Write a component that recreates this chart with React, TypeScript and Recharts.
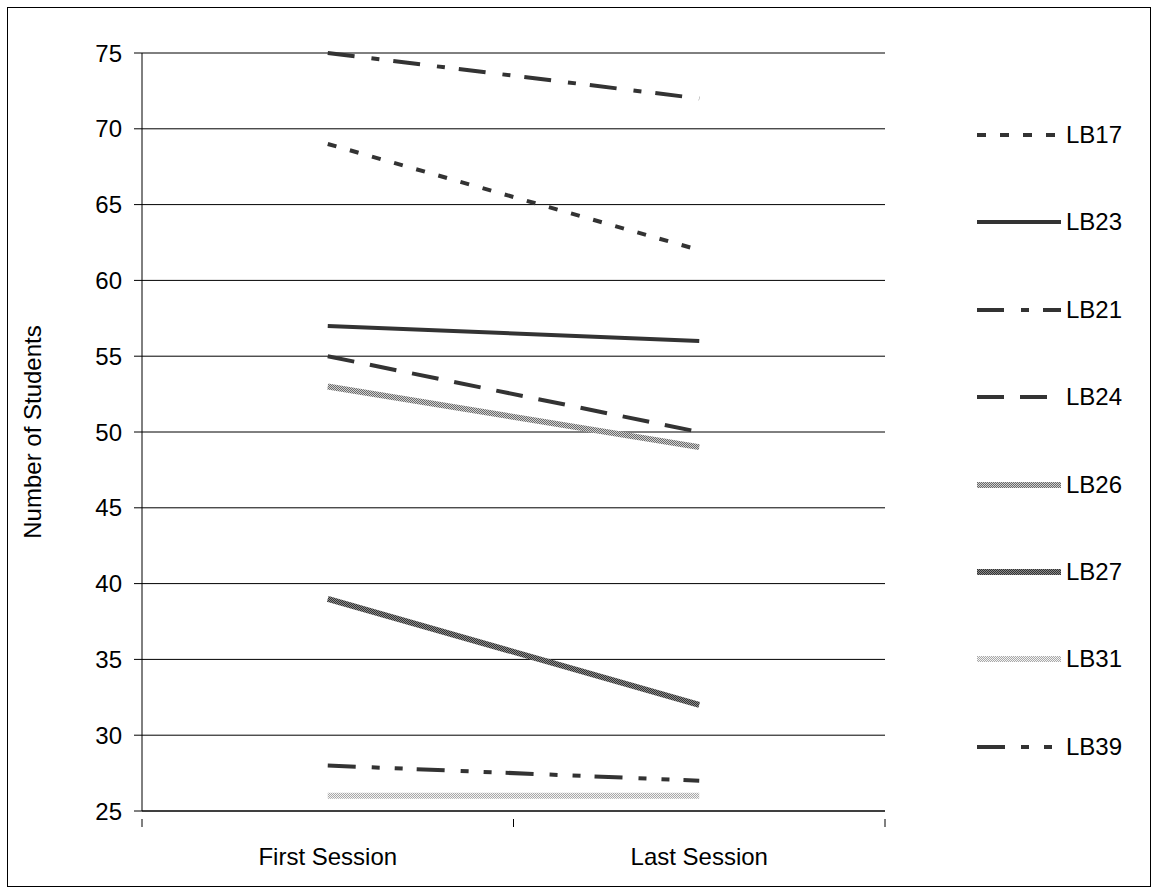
import React from "react";
import { CartesianGrid, Line, LineChart, XAxis, YAxis } from "recharts";

const categories = ["First Session", "Last Session"];
const seriesNames = ["LB17", "LB23", "LB21", "LB24", "LB26", "LB27", "LB31", "LB39"];
const firstSession = [69, 57, 75, 55, 53, 39, 26, 28];
const lastSession = [62, 56, 72, 50, 49, 32, 26, 27];
const yTicks = [25, 30, 35, 40, 45, 50, 55, 60, 65, 70, 75];

// Excel-ish line styles; the three hatched ones use a checker pattern
const STYLES: Record<string, { stroke: string; width: number; dash?: string }> = {
  LB17: { stroke: "#333", width: 4, dash: "9 14" },
  LB23: { stroke: "#333", width: 4 },
  LB21: { stroke: "#333", width: 4, dash: "27 17 8 14" },
  LB24: { stroke: "#333", width: 4, dash: "27 16" },
  LB26: { stroke: "url(#chk26)", width: 6 },
  LB27: { stroke: "url(#chk27)", width: 6 },
  LB31: { stroke: "url(#chk31)", width: 6 },
  LB39: { stroke: "#333", width: 4, dash: "28 16 8 15 8 14" },
};

const FONT = "'Liberation Sans', Arial, sans-serif";
const FS = 24;

const data = categories.map((c, i) => {
  const row: Record<string, number | string> = { x: i + 0.5, name: c };
  seriesNames.forEach((s, k) => {
    row[s] = i === 0 ? firstSession[k] : lastSession[k];
  });
  return row;
});

function Checker({ id, a, b }: { id: string; a: string; b: string }) {
  return (
    <pattern id={id} width={2} height={2} patternUnits="userSpaceOnUse">
      <rect width={2} height={2} fill={b} />
      <rect width={1} height={1} fill={a} />
      <rect x={1} y={1} width={1} height={1} fill={a} />
    </pattern>
  );
}

function Patterns() {
  return (
    <defs>
      <Checker id="chk26" a="#6a6a6a" b="#d0d0d0" />
      <Checker id="chk27" a="#333333" b="#8a8a8a" />
      <Checker id="chk31" a="#a8a8a8" b="#f4f4f4" />
    </defs>
  );
}

function XTick(props: any) {
  const { x, y, payload } = props;
  const v = payload.value as number;
  if (Number.isInteger(v)) {
    return <line x1={x} x2={x} y1={y} y2={y + 8} stroke="#000" />;
  }
  return (
    <text x={x} y={y + 46} textAnchor="middle" fontSize={FS} fontFamily={FONT} fill="#000">
      {categories[Math.floor(v)]}
    </text>
  );
}

function LegendBox() {
  return (
    <div style={{ position: "absolute", left: 976, top: 123, width: 180 }}>
      {seriesNames.map((s, i) => {
        const st = STYLES[s];
        return (
          <div
            key={s}
            style={{ position: "absolute", left: 0, top: i * 87.4, height: 24, display: "flex", alignItems: "center" }}
          >
            <svg width={86} height={24}>
              <Patterns />
              <line x1={1} x2={85} y1={12} y2={12} stroke={st.stroke} strokeWidth={st.width} strokeDasharray={st.dash} />
            </svg>
            <span style={{ fontFamily: FONT, fontSize: FS, color: "#000", marginLeft: 4, lineHeight: "24px" }}>{s}</span>
          </div>
        );
      })}
    </div>
  );
}

export default function App() {
  return (
    <div style={{ position: "absolute", left: 0, top: 0, width: 1158, height: 893, background: "#fff" }}>
      <div style={{ position: "absolute", left: 7, top: 7, width: 1142, height: 878, border: "1px solid #000" }} />
      <LineChart width={1158} height={893} data={data} margin={{ top: 53, right: 273, left: 0, bottom: 0 }}>
        <Patterns />
        <CartesianGrid vertical={false} stroke="#000" strokeWidth={1} />
        <XAxis
          dataKey="x"
          type="number"
          domain={[0, 2]}
          ticks={[0, 0.5, 1, 1.5, 2]}
          interval={0}
          tickLine={false}
          axisLine={{ stroke: "#000" }}
          tick={<XTick />}
          height={82}
        />
        <YAxis
          domain={[25, 75]}
          ticks={yTicks}
          interval={0}
          width={142}
          tickSize={8}
          tickMargin={12}
          axisLine={{ stroke: "#000" }}
          tickLine={{ stroke: "#000" }}
          tick={{ fontSize: FS, fontFamily: FONT, fill: "#000" }}
          label={{
            value: "Number of Students",
            angle: -90,
            position: "insideLeft",
            offset: 32,
            style: { fontSize: FS, fontFamily: FONT, fill: "#000", textAnchor: "middle" },
          }}
        />
        {seriesNames.map((s) => (
          <Line
            key={s}
            dataKey={s}
            type="linear"
            stroke={STYLES[s].stroke}
            strokeWidth={STYLES[s].width}
            strokeDasharray={STYLES[s].dash}
            dot={false}
            activeDot={false}
            isAnimationActive={false}
          />
        ))}
      </LineChart>
      <LegendBox />
    </div>
  );
}
